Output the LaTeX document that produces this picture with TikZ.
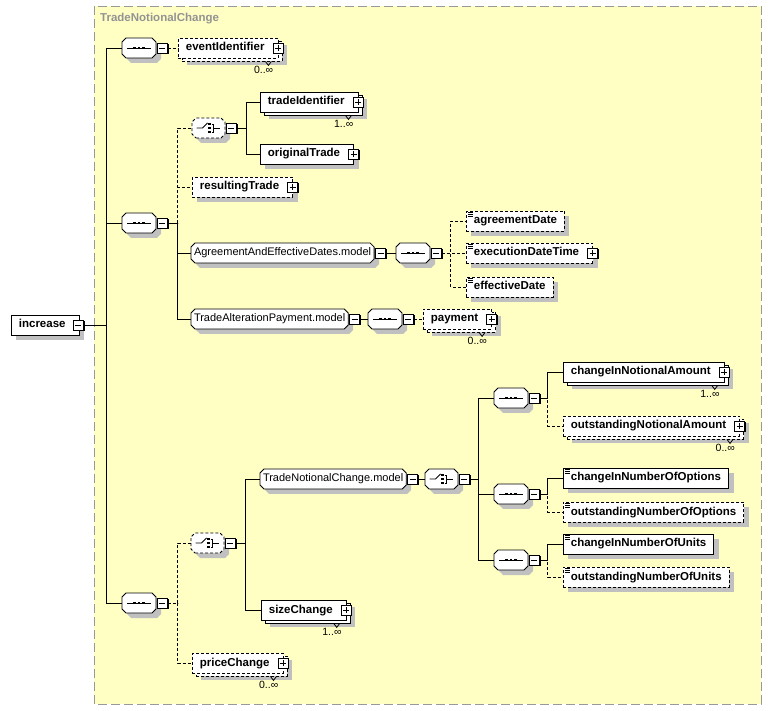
\documentclass[tikz,border=0pt]{standalone}
\usepackage{fontspec}
\setmainfont{Liberation Sans}
\usetikzlibrary{shadows}
\definecolor{groupbg}{RGB}{255,255,196}
\definecolor{shadowgray}{RGB}{192,192,192}
\newdimen\octxa \newdimen\octxb \newdimen\octxc \newdimen\octxd
\newdimen\octya \newdimen\octyb \newdimen\octyc \newdimen\octyd
\makeatletter
\pgfdeclareshape{octbox}{
  \inheritsavedanchors[from=rectangle]
  \inheritanchorborder[from=rectangle]
  \inheritanchor[from=rectangle]{center}
  \inheritanchor[from=rectangle]{north}
  \inheritanchor[from=rectangle]{south}
  \inheritanchor[from=rectangle]{east}
  \inheritanchor[from=rectangle]{west}
  \inheritanchor[from=rectangle]{north east}
  \inheritanchor[from=rectangle]{north west}
  \inheritanchor[from=rectangle]{south east}
  \inheritanchor[from=rectangle]{south west}
  \inheritanchor[from=rectangle]{text}
  \inheritanchor[from=rectangle]{base}
  \inheritanchor[from=rectangle]{mid}
  \backgroundpath{%
    \southwest \octxa=\pgf@x \octya=\pgf@y
    \northeast \octxb=\pgf@x \octyb=\pgf@y
    \octxc=\octxa \advance\octxc by 4pt
    \octxd=\octxb \advance\octxd by -4pt
    \octyc=\octya \advance\octyc by 4pt
    \octyd=\octyb \advance\octyd by -4pt
    \pgfpathmoveto{\pgfqpoint{\octxc}{\octya}}%
    \pgfpathlineto{\pgfqpoint{\octxd}{\octya}}%
    \pgfpathlineto{\pgfqpoint{\octxb}{\octyc}}%
    \pgfpathlineto{\pgfqpoint{\octxb}{\octyd}}%
    \pgfpathlineto{\pgfqpoint{\octxd}{\octyb}}%
    \pgfpathlineto{\pgfqpoint{\octxc}{\octyb}}%
    \pgfpathlineto{\pgfqpoint{\octxa}{\octyd}}%
    \pgfpathlineto{\pgfqpoint{\octxa}{\octyc}}%
    \pgfpathclose
  }
}
\makeatother
\def\PB#1{\node[plusbox] (#1p) at ([xshift=-0.5pt]#1.east) {};}
\def\MB#1{\node[minusbox,anchor=west] (#1m) at ([xshift=1pt]#1.east) {};}
\def\MX#1{\node[minusbox] (#1m) at ([xshift=-1pt]#1.east) {};}
\def\OC#1#2{\draw[line width=0.8pt] ([shift={(-13,3)}]#1.south east) -- ++(3,4) -- ++(3,-4);
  \node[occ,anchor=north east] (#1o) at ([shift={(-5,8)}]#1.south east) {#2};}
\tikzset{
  conn/.style={line width=0.8pt},
  opt/.style={dash pattern=on 3pt off 2pt},
  shade/.style={general shadow={fill=shadowgray,shadow xshift=5pt,shadow yshift=-5pt}},
  stack/.style={general shadow={fill=shadowgray,shadow xshift=9pt,shadow yshift=-7pt},
    general shadow={fill=white,draw=black,shadow xshift=4pt,shadow yshift=-3pt}},
  elem/.style={draw,fill=white,line width=0.8pt,rectangle,inner xsep=7.5pt,inner ysep=0pt,
    minimum height=20pt,text height=8.5pt,text depth=2.5pt,
    font=\bfseries\fontsize{11.5}{13}\selectfont},
  kids/.style={execute at end node={\hspace{6pt}}},
  simple/.style={path picture={\foreach \k in {1,3,5}
    \draw[black,solid,line width=0.6pt] ([shift={(2,\k)}]path picture bounding box.north west) -- ++(5,0);}},
  oct/.style={octbox,draw,fill=white,line width=0.8pt,outer sep=0pt,shade},
  model/.style={oct,inner xsep=3pt,inner ysep=0pt,minimum height=20pt,text height=8pt,text depth=2.5pt,
    font=\fontsize{11}{13}\selectfont},
  seq/.style={oct,minimum width=34pt,minimum height=20pt,inner sep=0pt,
    path picture={\draw[black,solid,line width=0.9pt] ([xshift=-12pt]path picture bounding box.center)
      -- ([xshift=12pt]path picture bounding box.center);
      \foreach \d in {-4.5,0,4.5} \fill[black] ([xshift=\d pt]path picture bounding box.center) +(-1.2,-1.4) rectangle +(1.2,1.4);}},
  choice/.style={oct,minimum width=33pt,minimum height=20pt,inner sep=0pt,
    path picture={\coordinate (cc) at (path picture bounding box.center);
      \draw[black,solid,line width=0.9pt] ([xshift=-12pt]cc) -- ([xshift=-6pt]cc) -- ([shift={(-1,-5)}]cc);
      \foreach \d in {-4,0,4} \fill[black] ([shift={(1,\d)}]cc) +(-1.2,-1.2) rectangle +(1.2,1.2);
      \draw[black,solid,line width=0.8pt] ([shift={(3,-4)}]cc) -- ([shift={(5,-4)}]cc) -- ([shift={(5,4)}]cc) -- ([shift={(3,4)}]cc)
        ([xshift=5pt]cc) -- ([xshift=11pt]cc);}},
  pmbox/.style={draw,solid,fill=white,line width=0.8pt,minimum size=10pt,inner sep=0pt,
    general shadow={fill=black,shadow xshift=1.2pt,shadow yshift=-1.2pt}},
  minusbox/.style={pmbox,path picture={\draw[black,line width=0.8pt] ([xshift=-3pt]path picture bounding box.center)
    -- ([xshift=3pt]path picture bounding box.center);}},
  plusbox/.style={pmbox,path picture={\draw[black,line width=0.8pt] ([xshift=-3pt]path picture bounding box.center)
    -- ([xshift=3pt]path picture bounding box.center) ([yshift=-3pt]path picture bounding box.center)
    -- ([yshift=3pt]path picture bounding box.center);}},
  occ/.style={inner sep=0pt,font=\fontsize{10.5}{12}\selectfont}
}
\begin{document}
\begin{tikzpicture}[x=1pt,y=-1pt]
\useasboundingbox (0,0) rectangle (772,711);
\draw[gray!80,dash pattern=on 9pt off 4pt,fill=groupbg] (94,6) rectangle (761,704);
\node[anchor=west,inner sep=0pt,text=gray!85,font=\bfseries\fontsize{11.5}{13}\selectfont] (grp) at (100,19) {TradeNotionalChange};

% root
\node[elem,shade,kids,anchor=west] (inc) at (11,325) {increase}; \MX{inc}

% top sequence
\node[seq,anchor=west] (seqA) at (122,48) {}; \MB{seqA}
\node[elem,opt,stack,kids,anchor=west] (evId) at (178,48) {eventIdentifier}; \PB{evId} \OC{evId}{0..∞}

% middle sequence
\node[seq,anchor=west] (seqB) at (122,223) {}; \MB{seqB}
\node[choice,opt,anchor=west] (chA) at (192,128) {}; \MB{chA}
\node[elem,stack,kids,anchor=west] (trId) at (260,102) {tradeIdentifier}; \PB{trId} \OC{trId}{1..∞}
\node[elem,shade,kids,anchor=west] (origTr) at (260,154) {originalTrade}; \PB{origTr}
\node[elem,opt,shade,kids,anchor=west] (resTr) at (192,187) {resultingTrade}; \PB{resTr}
\node[model,anchor=west] (aedMod) at (191,253) {AgreementAndEffectiveDates.model}; \MB{aedMod}
\node[seq,anchor=west] (seqC) at (396,253) {}; \MB{seqC}
\node[elem,opt,shade,simple,anchor=west] (agrDt) at (466,221) {agreementDate};
\node[elem,opt,shade,simple,kids,anchor=west] (exeDt) at (466,253) {executionDateTime}; \PB{exeDt}
\node[elem,opt,shade,simple,anchor=west] (effDt) at (466,287) {effectiveDate};
\node[model,anchor=west] (tapMod) at (191,319) {TradeAlterationPayment.model}; \MB{tapMod}
\node[seq,anchor=west] (seqD) at (368,319) {}; \MB{seqD}
\node[elem,opt,stack,kids,anchor=west] (pay) at (423,319) {payment}; \PB{pay} \OC{pay}{0..∞}

% bottom sequence
\node[seq,anchor=west] (seqE) at (122,603) {}; \MB{seqE}
\node[choice,opt,anchor=west] (chB) at (191,543) {}; \MB{chB}
\node[model,anchor=west] (tncMod) at (260,479) {TradeNotionalChange.model}; \MB{tncMod}
\node[choice,anchor=west] (chC) at (425,479) {}; \MB{chC}
\node[seq,anchor=west] (seqF) at (494,398) {}; \MB{seqF}
\node[elem,stack,kids,anchor=west] (cina) at (563,372) {changeInNotionalAmount}; \PB{cina} \OC{cina}{1..∞}
\node[elem,opt,stack,kids,anchor=west] (ona) at (563,426) {outstandingNotionalAmount}; \PB{ona} \OC{ona}{0..∞}
\node[seq,anchor=west] (seqG) at (494,494) {}; \MB{seqG}
\node[elem,shade,simple,anchor=west] (cino) at (563,478) {changeInNumberOfOptions};
\node[elem,opt,shade,simple,anchor=west] (ono) at (563,512) {outstandingNumberOfOptions};
\node[seq,anchor=west] (seqH) at (494,560) {}; \MB{seqH}
\node[elem,shade,simple,anchor=west] (cinu) at (563,544) {changeInNumberOfUnits};
\node[elem,opt,shade,simple,anchor=west] (onu) at (563,577) {outstandingNumberOfUnits};
\node[elem,stack,kids,anchor=west] (size) at (261,610) {sizeChange}; \PB{size} \OC{size}{1..∞}
\node[elem,opt,stack,kids,anchor=west] (price) at (192,663) {priceChange}; \PB{price} \OC{price}{0..∞}

% connectors
\foreach \k in {seqA,seqB,seqE} \draw[conn] (incm.east) -- ++(23,0) |- (\k.west);
\draw[conn,opt] (seqAm.east) -- (evId.west);
\foreach \k in {chA,resTr} \draw[conn,opt] (seqBm.east) -- ++(10,0) |- (\k.west);
\foreach \k in {aedMod,tapMod} \draw[conn] (seqBm.east) -- ++(10,0) |- (\k.west);
\foreach \k in {trId,origTr} \draw[conn] (chAm.east) -- ++(10,0) |- (\k.west);
\draw[conn] (aedModm.east) -- (seqC.west);
\foreach \k in {agrDt,exeDt,effDt} \draw[conn,opt] (seqCm.east) -- ++(9,0) |- (\k.west);
\draw[conn] (tapModm.east) -- (seqD.west);
\draw[conn,opt] (seqDm.east) -- (pay.west);
\foreach \k in {chB,price} \draw[conn,opt] (seqEm.east) -- ++(10,0) |- (\k.west);
\foreach \k in {tncMod,size} \draw[conn] (chBm.east) -- ++(10,0) |- (\k.west);
\draw[conn] (tncModm.east) -- (chC.west);
\foreach \k in {seqF,seqG,seqH} \draw[conn] (chCm.east) -- ++(9,0) |- (\k.west);
\draw[conn] (seqFm.east) -- ++(8,0) |- (cina.west);
\draw[conn,opt] (seqFm.east) -- ++(8,0) |- (ona.west);
\draw[conn] (seqGm.east) -- ++(8,0) |- (cino.west);
\draw[conn,opt] (seqGm.east) -- ++(8,0) |- (ono.west);
\draw[conn] (seqHm.east) -- ++(8,0) |- (cinu.west);
\draw[conn,opt] (seqHm.east) -- ++(8,0) |- (onu.west);
\end{tikzpicture}
\end{document}
